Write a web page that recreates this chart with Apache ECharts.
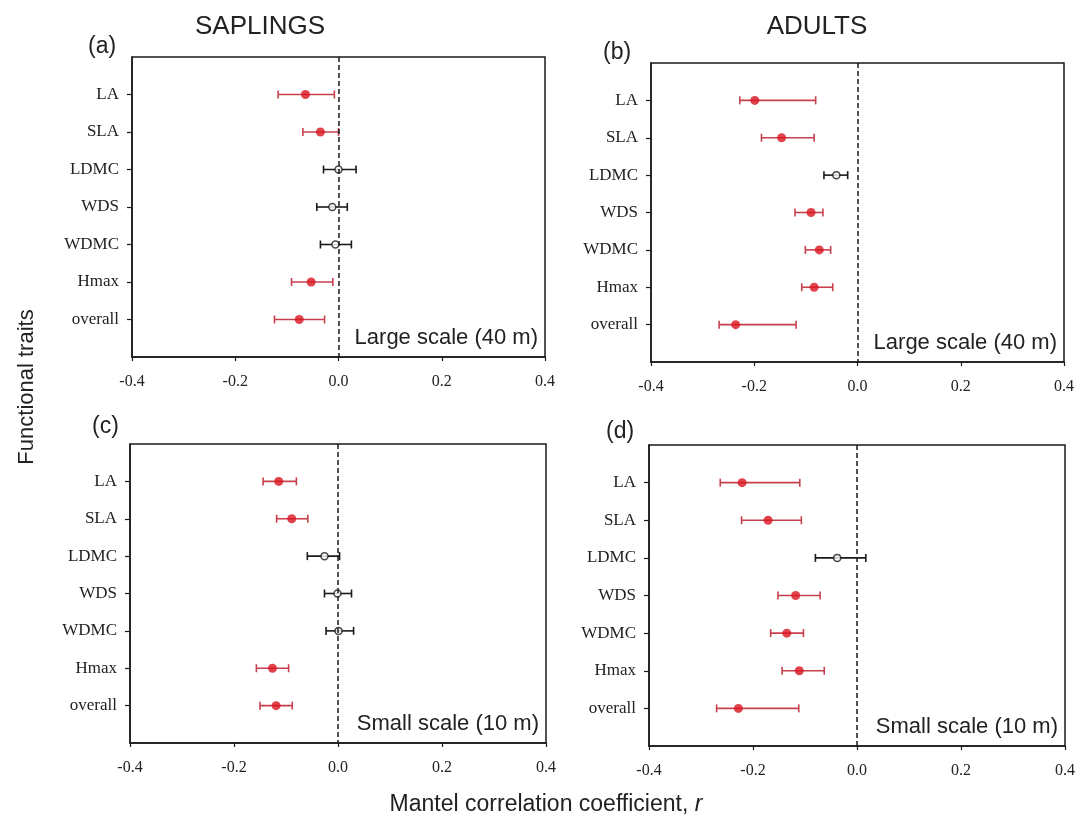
<!DOCTYPE html>
<html>
<head>
<meta charset="utf-8">
<script src="https://cdn.jsdelivr.net/npm/echarts@6/dist/echarts.min.js"></script>
<style>
html,body{margin:0;padding:0;background:#fff;}
#chart{width:1078px;height:828px;}
</style>
</head>
<body>
<div id="chart"></div>
<script>
// ---- data ----
var traits = ['LA', 'SLA', 'LDMC', 'WDS', 'WDMC', 'Hmax', 'overall'];
var xTickLabels = ['-0.4', '-0.2', '0.0', '0.2', '0.4'];

// (a) saplings, large scale (40 m)
var aMean = [-0.064, -0.035, 0.000, -0.012, -0.006, -0.053, -0.076];
var aLow  = [-0.117, -0.069, -0.029, -0.042, -0.035, -0.091, -0.124];
var aHigh = [-0.008, 0.000, 0.034, 0.017, 0.025, -0.011, -0.027];
var aSig  = [1, 1, 0, 0, 0, 1, 1];

// (b) adults, large scale (40 m)
var bMean = [-0.199, -0.147, -0.041, -0.090, -0.074, -0.084, -0.236];
var bLow  = [-0.228, -0.186, -0.065, -0.121, -0.101, -0.108, -0.268];
var bHigh = [-0.081, -0.084, -0.019, -0.067, -0.052, -0.048, -0.119];
var bSig  = [1, 1, 0, 1, 1, 1, 1];

// (c) saplings, small scale (10 m)
var cMean = [-0.114, -0.089, -0.026, -0.001, 0.001, -0.126, -0.119];
var cLow  = [-0.144, -0.118, -0.059, -0.026, -0.023, -0.157, -0.150];
var cHigh = [-0.080, -0.058, 0.003, 0.026, 0.030, -0.095, -0.088];
var cSig  = [1, 1, 0, 0, 0, 1, 1];

// (d) adults, small scale (10 m)
var dMean = [-0.221, -0.171, -0.038, -0.118, -0.135, -0.111, -0.228];
var dLow  = [-0.263, -0.222, -0.080, -0.152, -0.166, -0.144, -0.270];
var dHigh = [-0.110, -0.107, 0.017, -0.071, -0.103, -0.063, -0.112];
var dSig  = [1, 1, 0, 1, 1, 1, 1];

var panels = [
  {mean: aMean, low: aLow, high: aHigh, sig: aSig, label: '(a)', note: 'Large scale (40 m)'},
  {mean: bMean, low: bLow, high: bHigh, sig: bSig, label: '(b)', note: 'Large scale (40 m)'},
  {mean: cMean, low: cLow, high: cHigh, sig: cSig, label: '(c)', note: 'Small scale (10 m)'},
  {mean: dMean, low: dLow, high: dHigh, sig: dSig, label: '(d)', note: 'Small scale (10 m)'}
];

// ---- layout ----
var grids = [
  {left: 132, top: 57, width: 413, height: 300},
  {left: 651, top: 63, width: 413, height: 299},
  {left: 130, top: 444, width: 416, height: 299},
  {left: 649, top: 445, width: 416, height: 301}
];
var labelPos = [[88, 48], [603, 54], [92, 428], [606, 433]];

var RED_BAR = '#c8404e';
var RED_PT = '#d9141f';
var BLACK = '#1a1a1a';
var serif = '"Liberation Serif", "DejaVu Serif", serif';
var sans = '"Liberation Sans", Arial, sans-serif';

var yCats = [''].concat(traits).concat(['']);

var option = {
  backgroundColor: '#fff',
  animation: false,
  grid: grids.map(function (g) {
    return {left: g.left, top: g.top, width: g.width, height: g.height, show: true,
      borderColor: BLACK, borderWidth: 1.5, backgroundColor: 'transparent'};
  }),
  xAxis: grids.map(function (g, i) {
    return {
      type: 'value', gridIndex: i, min: -0.4, max: 0.4, interval: 0.2,
      axisLine: {show: true, onZero: false, lineStyle: {color: BLACK, width: 1.5}},
      axisTick: {show: true, inside: false, length: 4, lineStyle: {color: BLACK, width: 1.2}},
      splitLine: {show: false},
      axisLabel: {
        margin: 17, fontFamily: serif, fontSize: 16, color: '#222',
        formatter: function (v) {
          var idx = Math.round((v + 0.4) / 0.2);
          return xTickLabels[idx] !== undefined ? xTickLabels[idx] : '';
        }
      }
    };
  }),
  yAxis: grids.map(function (g, i) {
    return {
      type: 'category', gridIndex: i, data: yCats, inverse: true, boundaryGap: false,
      axisLine: {show: true, onZero: false, lineStyle: {color: BLACK, width: 1.5}},
      axisTick: {show: true, inside: false, length: 5, lineStyle: {color: BLACK, width: 1.2},
        interval: function (idx, val) { return val !== ''; }},
      axisLabel: {margin: 13, fontFamily: serif, fontSize: 17, color: '#222',
        interval: function (idx, val) { return val !== ''; }},
      splitLine: {show: false}
    };
  }),
  series: [],
  graphic: []
};

panels.forEach(function (p, i) {
  var barData = traits.map(function (t, k) {
    return [p.low[k], p.high[k], k + 1, p.sig[k]];
  });
  option.series.push({
    type: 'custom', xAxisIndex: i, yAxisIndex: i, z: 3,
    data: barData,
    renderItem: function (params, api) {
      var lo = api.coord([api.value(0), api.value(2)]);
      var hi = api.coord([api.value(1), api.value(2)]);
      var col = api.value(3) ? RED_BAR : BLACK;
      var cap = 4;
      var st = {stroke: col, lineWidth: 1.6};
      return {
        type: 'group',
        children: [
          {type: 'line', shape: {x1: lo[0], y1: lo[1], x2: hi[0], y2: hi[1]}, style: st},
          {type: 'line', shape: {x1: lo[0], y1: lo[1] - cap, x2: lo[0], y2: lo[1] + cap}, style: st},
          {type: 'line', shape: {x1: hi[0], y1: hi[1] - cap, x2: hi[0], y2: hi[1] + cap}, style: st}
        ]
      };
    },
    markLine: {
      silent: true, symbol: 'none', label: {show: false},
      lineStyle: {color: BLACK, type: [5, 3], width: 1.5},
      data: [{xAxis: 0}]
    }
  });
  option.series.push({
    type: 'scatter', xAxisIndex: i, yAxisIndex: i, z: 4, symbol: 'circle', symbolSize: 8,
    data: traits.map(function (t, k) {
      var s = p.sig[k];
      return {
        value: [p.mean[k], k + 1],
        symbolSize: s ? 9 : 7,
        itemStyle: s ? {color: RED_PT, borderColor: RED_PT, borderWidth: 0}
                     : {color: '#fff', borderColor: BLACK, borderWidth: 1.5}
      };
    })
  });
  var g = grids[i];
  option.graphic.push({
    type: 'text', left: labelPos[i][0], top: labelPos[i][1] - 13,
    style: {text: p.label, font: '23px ' + sans, fill: '#222'}
  });
  option.graphic.push({
    type: 'text', x: g.left + g.width - 7, y: g.top + g.height - 19,
    style: {text: p.note, font: '22px ' + sans, fill: '#222', textAlign: 'right', textVerticalAlign: 'middle'}
  });
});

option.graphic.push(
  {type: 'text', x: 260, y: 27, style: {text: 'SAPLINGS', font: '26px ' + sans, fill: '#222', textAlign: 'center', textVerticalAlign: 'middle'}},
  {type: 'text', x: 817, y: 27, style: {text: 'ADULTS', font: '26px ' + sans, fill: '#222', textAlign: 'center', textVerticalAlign: 'middle'}},
  {type: 'text', x: 27, y: 387, rotation: Math.PI / 2,
    style: {text: 'Functional traits', font: '22px ' + sans, fill: '#222', textAlign: 'center', textVerticalAlign: 'middle'}},
  {type: 'text', x: 546, y: 805,
    style: {text: '{n|Mantel correlation coefficient, }{i|r}', textAlign: 'center', textVerticalAlign: 'middle',
      rich: {n: {font: '23px ' + sans, fill: '#222'}, i: {font: 'italic 23px ' + sans, fill: '#222'}}}}
);

var chart = echarts.init(document.getElementById('chart'), null, {renderer: 'canvas'});
chart.setOption(option);
</script>
</body>
</html>
